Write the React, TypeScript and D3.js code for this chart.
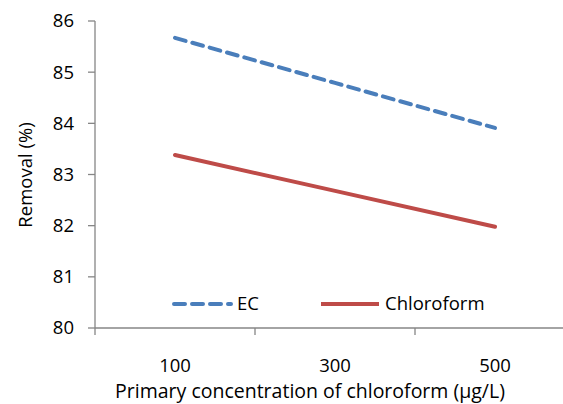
import { scaleBand, scaleLinear, line } from "d3";
import { FC } from "react";

const concentrations = ["100", "300", "500"];
const ecRemoval = [85.67, 84.79, 83.91];
const chloroformRemoval = [83.38, 82.68, 81.98];
const yTicks = [80, 81, 82, 83, 84, 85, 86];

const W = 563;
const H = 404;
const axisColor = "#868686";
const font = "'Open Sans', sans-serif";
const fs = 18.5;

const App: FC = () => {
  // X scale (category bands, last band runs past the right edge)
  const xScale = scaleBand<string>().domain(concentrations).range([95, 575]);
  const xMid = (c: string) => xScale(c)! + xScale.bandwidth() / 2;

  // Y scale
  const yScale = scaleLinear().domain([80, 86]).range([328, 21]);

  const path = line<number>()
    .x((_, i) => xMid(concentrations[i]))
    .y((d) => yScale(d));

  const boundaries = concentrations.map((c) => xScale(c)!);

  return (
    <svg
      width={W}
      height={H}
      style={{ position: "absolute", left: 0, top: 0, background: "#fff" }}
      fontFamily={font}
    >
      {/* y axis */}
      <line x1={95} x2={95} y1={21} y2={328} stroke={axisColor} strokeWidth={1.3} />
      {yTicks.map((t) => (
        <g key={t}>
          <line x1={88} x2={95} y1={yScale(t)} y2={yScale(t)} stroke={axisColor} strokeWidth={1.3} />
          <text x={74} y={yScale(t)} dy="0.35em" textAnchor="end" fontSize={fs} fill="#000">
            {t}
          </text>
        </g>
      ))}

      {/* x axis */}
      <line x1={95} x2={W} y1={328} y2={328} stroke={axisColor} strokeWidth={1.3} />
      {boundaries.map((b) => (
        <line key={b} x1={b} x2={b} y1={328} y2={335} stroke={axisColor} strokeWidth={1.3} />
      ))}
      {concentrations.map((c) => (
        <text key={c} x={xMid(c)} y={372} textAnchor="middle" fontSize={fs} fill="#000">
          {c}
        </text>
      ))}

      <text x={310} y={398} textAnchor="middle" fontSize={19.5} fill="#000">
        Primary concentration of chloroform (µg/L)
      </text>
      <text
        transform="translate(32,175) rotate(-90)"
        textAnchor="middle"
        fontSize={fs}
        fill="#000"
      >
        Removal (%)
      </text>

      {/* series */}
      <path
        d={path(ecRemoval)!}
        fill="none"
        stroke="#4a7ebb"
        strokeWidth={4}
        strokeDasharray="11 7"
        strokeLinecap="round"
      />
      <path
        d={path(chloroformRemoval)!}
        fill="none"
        stroke="#be4b48"
        strokeWidth={4}
        strokeLinecap="round"
      />

      {/* legend */}
      <line x1={174} x2={231} y1={304} y2={304} stroke="#4a7ebb" strokeWidth={4} strokeDasharray="11 7" strokeLinecap="round" />
      <text x={237} y={304} dy="0.35em" fontSize={fs} fill="#000">EC</text>
      <line x1={321} x2={379} y1={304} y2={304} stroke="#be4b48" strokeWidth={4} />
      <text x={385} y={304} dy="0.35em" fontSize={fs} fill="#000">Chloroform</text>
    </svg>
  );
};

export default App;
